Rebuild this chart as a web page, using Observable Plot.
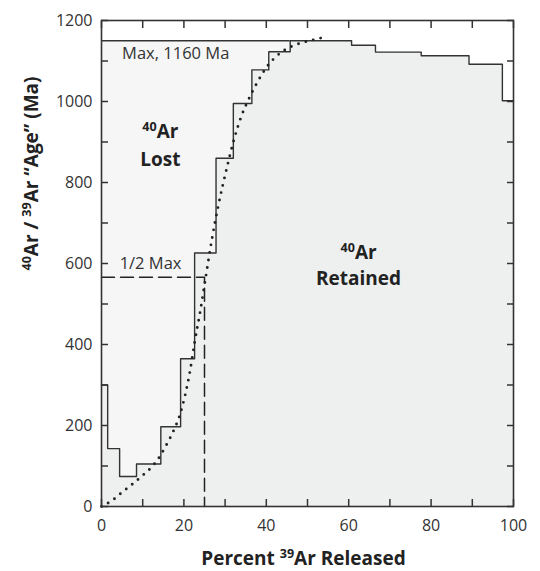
<!DOCTYPE html>
<html>
<head>
<meta charset="utf-8">
<script src="https://cdn.jsdelivr.net/npm/d3@7"></script>
<script src="https://cdn.jsdelivr.net/npm/@observablehq/plot@0.6"></script>
<style>
  html, body { margin: 0; padding: 0; background: #fff; overflow: hidden; }
</style>
</head>
<body>
<div id="chart"></div>
<script>
// ---- Data ----
// Step heating spectrum: start of each step (% 39Ar released) and apparent age (Ma)
const stepStart = [0, 1.5, 4.4, 8.5, 14.4, 19.2, 22.6, 27.8, 32.0, 36.5, 40.6, 45.8, 60.7, 66.5, 77.6, 89.2, 97.3, 100];
const stepAge   = [300, 143, 74, 105, 197, 365, 626, 860, 995, 1078, 1123, 1150, 1139, 1122, 1113, 1092, 1002, 1002];

// Dotted model diffusion-loss curve
const curvePct = [0, 2.6, 5.0, 7.6, 10.0, 12.5, 14.3, 15.9, 17.4, 19.1, 20.3, 21.5, 22.6, 24.0, 25.2, 26.8, 28.4, 30.4, 32.0, 34.0, 35.7, 37.7, 40.1, 42.5, 44.6, 47.6, 50.5, 53.8];
const curveAge = [0, 15, 35, 56, 77, 101, 126, 155, 185, 229, 275, 335, 405, 484, 560, 660, 745, 835, 900, 965, 1005, 1045, 1085, 1112, 1128, 1142, 1150, 1158];

// Half-max guide
const halfMaxAge = 566;
const halfMaxPct = 25.0;

// Annotations
const labelMax = "Max, 1160 Ma";
const labelHalf = "1/2 Max";
const notesCentered = [
  {x: 14.3, y: 926, text: "^40Ar"},
  {x: 14.3, y: 857, text: "Lost"},
  {x: 62.4, y: 627, text: "^40Ar"},
  {x: 62.4, y: 563, text: "Retained"}
];
const notesLeft = [
  {x: 5.0, y: 1118, text: labelMax},
  {x: 4.4, y: 600, text: labelHalf}
];

const xTicksMajor = [0, 20, 40, 60, 80, 100];
const xTicksMinor = d3.range(0, 101, 10);
const yTicksMajor = [0, 200, 400, 600, 800, 1000, 1200];
const yTicksMinor = d3.range(0, 1201, 100);

const xTitle = "Percent ^39Ar Released";
const yTitle = "^40Ar / ^39Ar \u201cAge\u201d (Ma)";

// ---- Derived tables ----
const steps = stepStart.map((x, i) => ({x, y: stepAge[i]}));
const curve = curvePct.map((x, i) => ({x, y: curveAge[i]}));
const maxIdx = d3.maxIndex(stepAge);
const maxAge = stepAge[maxIdx];
const lostEnd = stepStart[maxIdx];
const halfLine = [{x: 0, y: halfMaxAge}, {x: halfMaxPct, y: halfMaxAge}, {x: halfMaxPct, y: 0}];

const ink = "#333";
const titleFont = {fontWeight: "bold", fontSize: 19, fill: "#222"};
const plain = d => String(d);

const chart = Plot.plot({
  width: 540,
  height: 571,
  marginLeft: 101,
  marginRight: 27,
  marginTop: 20,
  marginBottom: 65,
  x: {domain: [0, 100]},
  y: {domain: [0, 1200]},
  style: {fontFamily: "'Open Sans', sans-serif", fontSize: "16px", color: ink, background: "#fff"},
  marks: [
    // 40Ar lost region
    Plot.rect([{x1: 0, x2: lostEnd, y1: 0, y2: maxAge}], {x1: "x1", x2: "x2", y1: "y1", y2: "y2", fill: "#f6f6f6"}),
    // 40Ar retained region
    Plot.areaY(steps, {x: "x", y: "y", curve: "step-after", fill: "#eef0f0"}),
    // Max line
    Plot.ruleY([maxAge], {x1: 0, x2: lostEnd, stroke: ink, strokeWidth: 1.4}),
    // Step spectrum
    Plot.line(steps, {x: "x", y: "y", curve: "step-after", stroke: ink, strokeWidth: 1.4}),
    // Half max dashed guide
    Plot.line(halfLine, {x: "x", y: "y", stroke: "#222", strokeWidth: 1.5, strokeDasharray: "13 6"}),
    // Dotted model curve
    Plot.line(curve, {x: "x", y: "y", curve: "monotone-x", stroke: "#222", strokeWidth: 2.9, strokeLinecap: "round", strokeDasharray: "0 7.6"}),
    Plot.frame({stroke: ink, strokeWidth: 1.6}),
    // Inward ticks on all four sides
    Plot.axisX({anchor: "bottom", ticks: xTicksMinor, tickSize: -7, tickFormat: () => "", label: null, stroke: ink, strokeWidth: 1.5}),
    Plot.axisX({anchor: "top", ticks: xTicksMinor, tickSize: -7, tickFormat: () => "", label: null, stroke: ink, strokeWidth: 1.5}),
    Plot.axisY({anchor: "left", ticks: yTicksMinor, tickSize: -7, tickFormat: () => "", label: null, stroke: ink, strokeWidth: 1.5}),
    Plot.axisY({anchor: "right", ticks: yTicksMinor, tickSize: -7, tickFormat: () => "", label: null, stroke: ink, strokeWidth: 1.5}),
    // Tick labels
    Plot.axisX({anchor: "bottom", ticks: xTicksMajor, tickFormat: plain, tickSize: 0, tickPadding: 13, label: null, fontSize: 16, fill: ink}),
    Plot.axisY({anchor: "left", ticks: yTicksMajor, tickFormat: plain, tickSize: 0, tickPadding: 9, label: null, fontSize: 16, fill: ink}),
    // Annotations
    Plot.text(notesLeft, {x: "x", y: "y", text: "text", textAnchor: "start", lineAnchor: "middle", fontSize: 16.5, fill: "#333"}),
    Plot.text(notesCentered, {x: "x", y: "y", text: "text", textAnchor: "middle", lineAnchor: "middle", fontSize: 19, fontWeight: "bold", fill: "#222"}),
    // Axis titles
    Plot.text([xTitle], {frameAnchor: "bottom", dx: -4, dy: 52, lineAnchor: "middle", ...titleFont}),
    Plot.text([yTitle], {frameAnchor: "left", dx: -70, dy: 7, rotate: -90, lineAnchor: "middle", ...titleFont})
  ]
});

// Superscript isotope numbers written as ^NN
const ns = "http://www.w3.org/2000/svg";
d3.select(chart).selectAll("text").each(function() {
  const s = this.textContent;
  if (!s.includes("^")) return;
  this.textContent = "";
  const parts = s.split(/(\^\d+)/).filter(p => p);
  let raised = false;
  for (const p of parts) {
    const t = document.createElementNS(ns, "tspan");
    if (p.startsWith("^")) {
      t.textContent = p.slice(1);
      t.setAttribute("font-size", "0.66em");
      t.setAttribute("dy", "-0.52em");
      raised = true;
    } else {
      t.textContent = p;
      if (raised) t.setAttribute("dy", "0.343em");
      raised = false;
    }
    this.appendChild(t);
  }
});

document.getElementById("chart").appendChild(chart);
</script>
</body>
</html>
